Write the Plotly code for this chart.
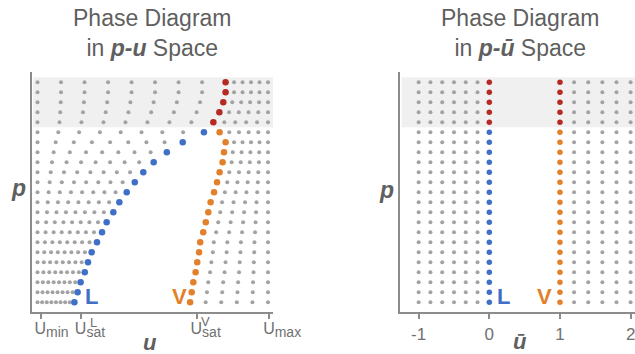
import plotly.graph_objects as go

# ---------------- data ----------------
p_levels = list(range(23))              # pressure rows, bottom (0) to top (22)
p_sub = p_levels[:18]                   # sub-critical rows
p_super = p_levels[18:]                 # super-critical rows (shaded)

u_liq_sat = [16.0, 17.4, 18.7, 20.5, 21.9, 23.5, 25.8, 28.0, 30.0, 32.9,
             35.5, 38.7, 42.2, 45.9, 50.4, 56.1, 63.0, 72.2]
u_vap_sat = [66.2, 66.9, 67.6, 68.6, 69.3, 70.1, 70.6, 71.9, 73.0, 74.1,
             75.1, 76.6, 77.9, 79.0, 80.3, 80.9, 81.6, 79.0]
u_super = [76.3, 78.9, 80.6, 81.6, 81.6]

u_min, u_max = 0.0, 100.0
liq_frac = [0.0, 0.125, 0.25, 0.375, 0.5, 0.625, 0.75, 0.875]
vap_frac = [0.2, 0.4, 0.6, 0.8, 1.0]

ubar_liq_grid = [-1.0, -5/6, -4/6, -3/6, -2/6, -1/6]
ubar_vap_grid = [1.2, 1.4, 1.6, 1.8, 2.0]
ubar_L, ubar_V = 0.0, 1.0

u_tickvals = [1.4, 18.9, 69.1, 100.6]
u_tick_main = ["U", "U", "U", "U"]
u_tick_sub = ["min", "sat", "sat", "max"]
u_tick_sup = ["L", "V"]
ubar_tickvals = [-1, 0, 1, 2]
ubar_ticktext = ["-1", "0", "1", "2"]

# ---------------- styles ----------------
BLUE = "#3f6fc6"
ORANGE = "#e3802c"
RED = "#b52a22"
GRAY = "#a3a3a3"
AXIS = "#8c8c8c"
TXT = "#5f5f5f"
FONT = "Liberation Sans, Arial, sans-serif"

W, H = 645, 354     # slightly wider than the window: right panel runs off the edge

u_ticktext = [m + '<sub><span style="font-size:14px">' + s + '</span></sub>'
              for m, s in zip(u_tick_main, u_tick_sub)]

# ---------------- build grid points ----------------
u_sat_left_all = u_liq_sat + u_super
u_sat_right_all = u_vap_sat + u_super
gx, gy = [], []
for k, p in enumerate(p_levels):
    uL = u_sat_left_all[k]
    uV = u_sat_right_all[k]
    for f in liq_frac:
        gx.append(u_min + f * (uL - u_min)); gy.append(p)
    for f in vap_frac:
        gx.append(uV + f * (u_max - uV)); gy.append(p)

rgx, rgy = [], []
for p in p_levels:
    for b in ubar_liq_grid + ubar_vap_grid:
        rgx.append(b); rgy.append(p)

fig = go.Figure()
# left panel
fig.add_trace(go.Scatter(x=gx, y=gy, mode="markers", xaxis="x", yaxis="y",
                         marker=dict(size=4, color=GRAY), hoverinfo="skip"))
fig.add_trace(go.Scatter(x=u_liq_sat, y=p_sub, mode="markers", xaxis="x", yaxis="y",
                         marker=dict(size=6.5, color=BLUE)))
fig.add_trace(go.Scatter(x=u_vap_sat, y=p_sub, mode="markers", xaxis="x", yaxis="y",
                         marker=dict(size=6.5, color=ORANGE)))
fig.add_trace(go.Scatter(x=u_super, y=p_super, mode="markers", xaxis="x", yaxis="y",
                         marker=dict(size=6.5, color=RED)))
# right panel
fig.add_trace(go.Scatter(x=rgx, y=rgy, mode="markers", xaxis="x2", yaxis="y2",
                         marker=dict(size=4, color=GRAY), hoverinfo="skip"))
fig.add_trace(go.Scatter(x=[ubar_L] * len(p_sub), y=p_sub, mode="markers", xaxis="x2", yaxis="y2",
                         marker=dict(size=5.5, color=BLUE)))
fig.add_trace(go.Scatter(x=[ubar_V] * len(p_sub), y=p_sub, mode="markers", xaxis="x2", yaxis="y2",
                         marker=dict(size=5.5, color=ORANGE)))
fig.add_trace(go.Scatter(x=[ubar_L] * len(p_super) + [ubar_V] * len(p_super),
                         y=p_super + p_super, mode="markers", xaxis="x2", yaxis="y2",
                         marker=dict(size=5.5, color=RED)))

# shaded supercritical bands
fig.add_shape(type="rect", xref="x", yref="y", x0=-1.9, x1=102.3, y0=17.5, y1=22.5,
              fillcolor="#f0f0f0", line=dict(width=0), layer="below")
fig.add_shape(type="rect", xref="x2", yref="y2", x0=-1.24, x1=2.2, y0=17.5, y1=22.5,
              fillcolor="#f0f0f0", line=dict(width=0), layer="below")

yb, yt = (H - 312.3) / H, (H - 71.7) / H
common_axis = dict(showline=True, linecolor=AXIS, linewidth=2, showgrid=False,
                   zeroline=False, fixedrange=True, automargin=False)
fig.update_layout(
    width=W, height=H, margin=dict(l=0, r=0, t=0, b=0, pad=0, autoexpand=False),
    paper_bgcolor="white", plot_bgcolor="white", showlegend=False,
    font=dict(family=FONT, color=TXT),
    xaxis=dict(domain=[31.7 / W, 273.3 / W], range=[-2.52, 102.3],
               tickmode="array", tickvals=u_tickvals, ticktext=u_ticktext,
               ticks="outside", ticklen=5, tickwidth=1.5, tickcolor=AXIS,
               ticklabelposition="outside right", tickangle=0, ticklabelshift=-8,
               tickfont=dict(size=16, color="#707070"), **common_axis),
    yaxis=dict(domain=[yb, yt], range=[-1.0, 23.06], showticklabels=False,
               ticks="", **common_axis),
    xaxis2=dict(domain=[400 / W, 641 / W], range=[-1.264, 2.147], anchor="y2",
                tickmode="array", tickvals=ubar_tickvals, ticktext=ubar_ticktext,
                ticks="outside", ticklen=5, tickwidth=1.5, tickcolor=AXIS, tickangle=0,
                tickfont=dict(size=17, color="#707070"), **common_axis),
    yaxis2=dict(domain=[yb, yt], range=[-1.0, 23.06], anchor="x2",
                showticklabels=False, ticks="", **common_axis),
)

def pa(text, xpx, ypx, size, color=TXT, **kw):
    fig.add_annotation(text=text, xref="paper", yref="paper",
                       x=xpx / W, y=(H - ypx) / H, showarrow=False,
                       xanchor="center", yanchor="middle",
                       font=dict(size=size, color=color, family=FONT), **kw)

# titles
pa("Phase Diagram<br>in <b><i>p-u</i></b> Space", 152, 32.5, 23)
pa("Phase Diagram<br>in <b><i>p-ū</i></b> Space", 520, 32.5, 23)
# axis titles
pa("<b><i>p</i></b>", 18, 188, 23)
pa("<b><i>p</i></b>", 386, 190, 23)
pa("<b><i>u</i></b>", 150, 342, 22)
pa("<b><i>ū</i></b>", 520, 341, 22)
# superscripts of saturation ticks
pa(u_tick_sup[0], 93, 322, 13, color="#707070")
pa(u_tick_sup[1], 205.5, 321, 13, color="#707070")

# phase labels
def da(text, x, y, xr, yr, color):
    fig.add_annotation(text="<b>" + text + "</b>", xref=xr, yref=yr, x=x, y=y,
                       showarrow=False, xanchor="center", yanchor="middle",
                       font=dict(size=22, color=color, family=FONT))

da("L", 23.4, 0.6, "x", "y", BLUE)
da("V", 61.6, 0.6, "x", "y", ORANGE)
da("L", 0.20, 0.6, "x2", "y2", BLUE)
da("V", 0.78, 0.6, "x2", "y2", ORANGE)

fig.write_html("out.html", config={"displayModeBar": False},
               post_script="document.body.style.margin='0';document.body.style.overflow='hidden';")
